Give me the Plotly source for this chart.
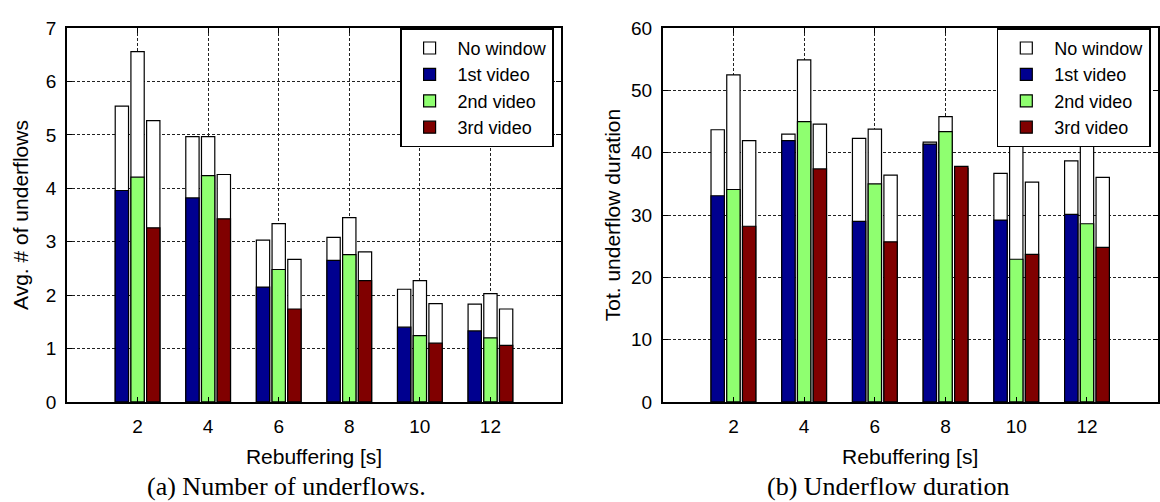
import plotly.graph_objects as go

# ---------------- data ----------------
categories = [2, 4, 6, 8, 10, 12]
series_names = ["1st video", "2nd video", "3rd video"]
nowindow_name = "No window"

# (a) Avg. # of underflows
a_nowin_1 = [5.54, 4.97, 3.03, 3.08, 2.11, 1.83]
a_nowin_2 = [6.56, 4.97, 3.34, 3.45, 2.27, 2.03]
a_nowin_3 = [5.27, 4.26, 2.67, 2.81, 1.84, 1.74]
a_video_1 = [3.96, 3.82, 2.15, 2.65, 1.40, 1.33]
a_video_2 = [4.21, 4.24, 2.48, 2.76, 1.24, 1.20]
a_video_3 = [3.26, 3.43, 1.74, 2.27, 1.10, 1.06]

# (b) Tot. underflow duration
b_nowin_1 = [43.7, 43.0, 42.3, 41.7, 36.7, 38.7]
b_nowin_2 = [52.5, 54.9, 43.8, 45.8, 47.0, 46.0]
b_nowin_3 = [41.95, 44.6, 36.4, 37.5, 35.3, 36.05]
b_video_1 = [33.1, 41.95, 29.0, 41.4, 29.2, 30.1]
b_video_2 = [34.1, 45.0, 35.0, 43.4, 22.9, 28.6]
b_video_3 = [28.2, 37.4, 25.7, 37.8, 23.7, 24.8]

# ---------------- style ----------------
COLORS = ["#00008F", "#8FFF70", "#800000"]
BAR_W = 0.377
STEP = 0.445
SANS = "Liberation Sans, Arial, Helvetica, sans-serif"
SERIF = "Liberation Serif, Times New Roman, serif"
W, H = 1160, 502

fig = go.Figure()


def add_panel(nowins, videos, xa, ya, legend):
    for k, nw in enumerate(nowins):
        fig.add_trace(go.Bar(
            x=categories, y=nw, width=BAR_W, offset=(k - 1) * STEP - BAR_W / 2,
            marker=dict(color="white", line=dict(color="black", width=1.2)),
            name=nowindow_name, legendgroup=legend + "nw", showlegend=(k == 0),
            xaxis=xa, yaxis=ya, legend=legend))
    for k, v in enumerate(videos):
        fig.add_trace(go.Bar(
            x=categories, y=v, width=BAR_W, offset=(k - 1) * STEP - BAR_W / 2,
            marker=dict(color=COLORS[k], line=dict(color="black", width=1.2)),
            name=series_names[k], legendgroup=legend + str(k),
            xaxis=xa, yaxis=ya, legend=legend))


add_panel([a_nowin_1, a_nowin_2, a_nowin_3], [a_video_1, a_video_2, a_video_3],
          "x", "y", "legend")
add_panel([b_nowin_1, b_nowin_2, b_nowin_3], [b_video_1, b_video_2, b_video_3],
          "x2", "y2", "legend2")

common_axis = dict(
    showline=True, linecolor="black", linewidth=1.6, mirror="ticks",
    ticks="inside", ticklen=5, tickcolor="black", tickwidth=1,
    showgrid=True, gridcolor="#222222", gridwidth=1, griddash="3px,2px",
    zeroline=False, tickfont=dict(family=SANS, size=19, color="black"),
)

xcommon = dict(common_axis, range=[0, 14], tickmode="array", tickvals=categories,
               ticktext=[str(c) for c in categories], ticklabelstandoff=7,
               title=dict(text="Rebuffering [s]", standoff=13,
                          font=dict(family=SANS, size=21, color="black")))

legend_common = dict(
    xanchor="right", yanchor="top", bgcolor="white", bordercolor="black",
    borderwidth=1.6, font=dict(family=SANS, size=18, color="black"),
    tracegroupgap=0, traceorder="normal", itemwidth=46,
)

fig.update_layout(
    width=W, height=H, margin=dict(l=0, r=0, t=0, b=0),
    paper_bgcolor="white", plot_bgcolor="white",
    barmode="overlay",
    xaxis=dict(xcommon, domain=[67 / W, 561 / W], anchor="y"),
    yaxis=dict(common_axis, domain=[1 - 409 / H, 1 - 19 / H], anchor="x",
               range=[0, 7], dtick=1, ticklabelstandoff=5,
               title=dict(text="Avg. # of underflows", standoff=11,
                          font=dict(family=SANS, size=21, color="black"))),
    xaxis2=dict(xcommon, domain=[662.7 / W, 1157.7 / W], anchor="y2"),
    yaxis2=dict(common_axis, domain=[1 - 409 / H, 1 - 19 / H], anchor="x2",
                range=[0, 60], dtick=10, ticklabelstandoff=5,
                title=dict(text="Tot. underflow duration", standoff=5,
                           font=dict(family=SANS, size=21, color="black"))),
    legend=dict(legend_common, x=554 / W, y=1 - 19 / H),
    legend2=dict(legend_common, x=1150.7 / W, y=1 - 19 / H),
    annotations=[
        dict(text="(a) Number of underflows.", xref="paper", yref="paper",
             x=286 / W, y=1 - 497 / H, xanchor="center", yanchor="middle",
             showarrow=False, font=dict(family=SERIF, size=26, color="black")),
        dict(text="(b) Underflow duration", xref="paper", yref="paper",
             x=888 / W, y=1 - 497 / H, xanchor="center", yanchor="middle",
             showarrow=False, font=dict(family=SERIF, size=26, color="black")),
    ],
    showlegend=True,
)

fig.write_html("out.html")
